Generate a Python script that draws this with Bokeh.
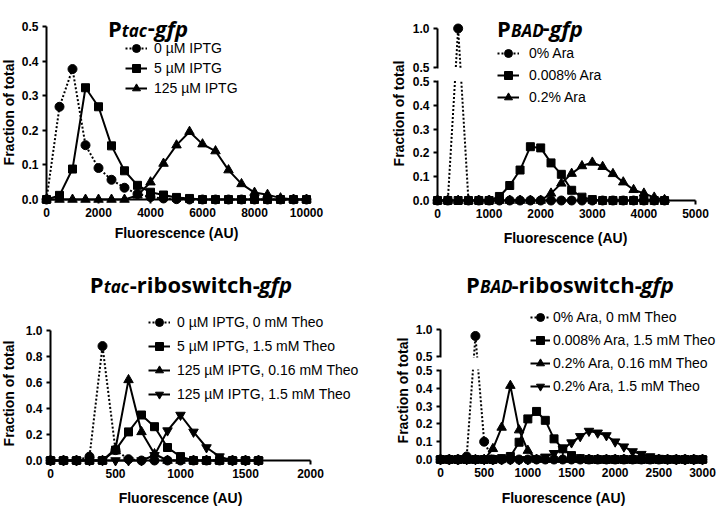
import math
from bokeh.plotting import figure
from bokeh.layouts import row, column
from bokeh.models import (Range1d, Label, Legend, LegendItem, FixedTicker, BoxAnnotation,
                          CustomJSTransform, CustomJSTickFormatter, NumeralTickFormatter,
                          ColumnDataSource)
from bokeh.transform import transform
from bokeh.embed import file_html
from bokeh.resources import INLINE

# ---------------- data ----------------
# Panel A: Ptac-gfp
a_x = [0, 500, 1000, 1500, 2000, 2500, 3000, 3500, 4000, 4500, 5000,
       5500, 6000, 6500, 7000, 7500, 8000, 8500, 9000, 9500, 10000]
a_iptg0 = [0.0, 0.268, 0.377, 0.157, 0.091, 0.057, 0.034, 0.016, 0.007, 0.003, 0.001,
           0, 0, 0, 0, 0, 0, 0, 0, 0, 0]
a_iptg5 = [0.0, 0.012, 0.088, 0.323, 0.268, 0.155, 0.083, 0.041, 0.021, 0.013, 0.006,
           0.003, 0, 0, 0, 0, 0, 0, 0, 0, 0]
a_iptg125 = [0, 0, 0, 0, 0, 0, 0, 0.012, 0.05, 0.104, 0.157,
             0.196, 0.16, 0.14, 0.085, 0.045, 0.02, 0.014, 0.004, 0, 0]
a_labels = ["0 µM IPTG", "5 µM IPTG", "125 µM IPTG"]
a_xticks = [0, 2000, 4000, 6000, 8000, 10000]
a_yticks = [0.0, 0.1, 0.2, 0.3, 0.4, 0.5]

# Panel B: PBAD-gfp
b_x = [0, 200, 400, 600, 800, 1000, 1200, 1400, 1600, 1800, 2000, 2200,
       2400, 2600, 2800, 3000, 3200, 3400, 3600, 3800, 4000, 4200, 4400]
b_ara0 = [0, 0, 1.0, 0, 0, 0, 0, 0, 0, 0, 0, 0,
          0, 0, 0, 0, 0, 0, 0, 0, 0, 0, 0]
b_ara008 = [0, 0, 0, 0, 0, 0, 0.017, 0.063, 0.128, 0.226, 0.221, 0.158,
            0.11, 0.043, 0.014, 0.004, 0, 0, 0, 0, 0, 0, 0]
b_ara02 = [0, 0, 0, 0, 0, 0, 0, 0, 0, 0, 0, 0.03,
           0.072, 0.113, 0.145, 0.16, 0.142, 0.112, 0.077, 0.045, 0.03, 0.013, 0.003]
b_labels = ["0% Ara", "0.008% Ara", "0.2% Ara"]
b_xticks = [0, 1000, 2000, 3000, 4000, 5000]

# Panel C: Ptac-riboswitch-gfp
c_x = [0, 100, 200, 300, 400, 500, 600, 700, 800, 900, 1000,
       1100, 1200, 1300, 1400, 1500, 1600]
c_s0 = [0, 0, 0, 0.03, 0.88, 0.08, 0.01, 0, 0, 0, 0, 0, 0, 0, 0, 0, 0]
c_s1 = [0, 0, 0, 0, 0, 0.08, 0.22, 0.35, 0.26, 0.1, 0.03, 0, 0, 0, 0, 0, 0]
c_s2 = [0, 0, 0, 0, 0, 0.09, 0.62, 0.22, 0.05, 0, 0, 0, 0, 0, 0, 0, 0]
c_s3 = [0, 0, 0, 0, 0, 0, 0, 0, 0.04, 0.23, 0.35, 0.22, 0.1, 0.03, 0, 0, 0]
c_labels = ["0 µM IPTG, 0 mM Theo", "5 µM IPTG, 1.5 mM Theo",
            "125 µM IPTG, 0.16 mM Theo", "125 µM IPTG, 1.5 mM Theo"]
c_xticks = [0, 500, 1000, 1500, 2000]
c_yticks = [0.0, 0.2, 0.4, 0.6, 0.8, 1.0]

# Panel D: PBAD-riboswitch-gfp
d_x = [0, 100, 200, 300, 400, 500, 600, 700, 800, 900, 1000,
       1100, 1200, 1300, 1400, 1500, 1600, 1700, 1800, 1900, 2000,
       2100, 2200, 2300, 2400, 2500, 2600, 2700, 2800, 2900, 3000]
d_s0 = [0, 0, 0, 0.017, 0.88, 0.1, 0, 0, 0, 0, 0,
        0, 0, 0, 0, 0, 0, 0, 0, 0, 0,
        0, 0, 0, 0, 0, 0, 0, 0, 0, 0]
d_s1 = [0, 0, 0, 0, 0, 0, 0, 0.005, 0.017, 0.097, 0.228,
        0.27, 0.22, 0.116, 0.06, 0.022, 0.005, 0, 0, 0, 0,
        0, 0, 0, 0, 0, 0, 0, 0, 0, 0]
d_s2 = [0, 0, 0, 0, 0, 0, 0.06, 0.18, 0.415, 0.165, 0.05,
        0, 0, 0, 0, 0, 0, 0, 0, 0, 0,
        0, 0, 0, 0, 0, 0, 0, 0, 0, 0]
d_s3 = [0, 0, 0, 0, 0, 0, 0, 0, 0, 0, 0,
        0.005, 0.015, 0.035, 0.06, 0.095, 0.13, 0.16, 0.15, 0.135, 0.1,
        0.072, 0.045, 0.03, 0.017, 0.008, 0.003, 0, 0, 0, 0]
d_labels = ["0% Ara, 0 mM Theo", "0.008% Ara, 1.5 mM Theo",
            "0.2% Ara, 0.16 mM Theo", "0.2% Ara, 1.5 mM Theo"]
d_xticks = [0, 500, 1000, 1500, 2000, 2500, 3000]
lower_yticks = [0.0, 0.1, 0.2, 0.3, 0.4, 0.5]

# ---------------- layout helpers ----------------
TOTAL_W, TOTAL_H = 719, 506
SX = 1.0
SY = 1.0
H1 = 250
H2 = TOTAL_H - H1
W1 = 390
W2 = TOTAL_W - W1
W3 = 392
W4 = TOTAL_W - W3

FONT = "Liberation Sans"
TFONT = "Open Sans"

UP = {'P': .63, 'r': .45, 'i': .30, 'b': .62, 'o': .61, 's': .50, 'w': .86,
      't': .42, 'c': .51, 'h': .66, '-': .32}
IT = {'g': .56, 'f': .38, 'p': .62, 't': .42, 'a': .60, 'c': .51,
      'B': .61, 'A': .61, 'D': .64}


def est_w(text, size, style):
    tab = IT if "italic" in style else UP
    return sum(tab.get(ch, .55) for ch in text) * size


class Panel:
    """One figure whose frame fills its whole canvas; axes sit at data 0."""

    def __init__(self, cx0, cy0, cw, ch, xpx, xdat, ypx, ydat, upper=None):
        self.ax0 = xpx[0] * SX - cx0
        ax1 = xpx[1] * SX - cx0
        self.kx = (ax1 - self.ax0) / (xdat[1] - xdat[0])
        self.ay0 = ypx[0] * SY - cy0
        ay1 = ypx[1] * SY - cy0
        self.ky = (self.ay0 - ay1) / (ydat[1] - ydat[0])
        self.xd0, self.yd0 = xdat[0], ydat[0]
        self.upper = upper
        if upper:
            u0 = upper[0] * SY - cy0
            u1 = upper[1] * SY - cy0
            self.t05 = ydat[1] + (ay1 - u0) / self.ky
            self.t10 = self.t05 + (u0 - u1) / self.ky
        xr = Range1d(self.xd0 - self.ax0 / self.kx, self.xd0 + (cw - self.ax0) / self.kx)
        yr = Range1d(self.yd0 - (ch - self.ay0) / self.ky, self.yd0 + self.ay0 / self.ky)
        p = figure(width=cw, height=ch, x_range=xr, y_range=yr,
                   min_border_left=0, min_border_right=0,
                   min_border_top=0, min_border_bottom=0,
                   output_backend="svg", toolbar_location=None, title=None)
        p.grid.visible = False
        p.outline_line_color = None
        p.background_fill_color = "white"
        p.border_fill_color = "white"
        for ax in (p.xaxis[0], p.yaxis[0]):
            ax.axis_line_width = 2
            ax.axis_line_color = "black"
            ax.major_tick_line_width = 2
            ax.major_tick_line_color = "black"
            ax.major_tick_out = 4
            ax.major_tick_in = 0
            ax.minor_tick_line_color = None
            ax.major_label_text_font = FONT
            ax.major_label_text_font_style = "bold"
            ax.major_label_text_font_size = "12px"
            ax.major_label_text_color = "black"
            ax.major_label_standoff = 4
            ax.fixed_location = 0
        self.p = p
        self.cw, self.ch = cw, ch
        self.tr = None
        if upper:
            self.tr = CustomJSTransform(
                args=dict(t05=self.t05, t10=self.t10),
                func="return x > 0.5 ? t05 + (x - 0.5) * (t10 - t05) / 0.5 : x;",
                v_func="return xs.map(v => v > 0.5 ? t05 + (v - 0.5) * (t10 - t05) / 0.5 : v);")

    def dx(self, px):
        return self.xd0 + (px - self.ax0) / self.kx

    def dy(self, py):
        return self.yd0 + (self.ay0 - py) / self.ky

    def axes(self, xticks, yticks, xmax, ymax):
        p = self.p
        p.xaxis.ticker = FixedTicker(ticks=xticks)
        p.xaxis.bounds = (0, xmax)
        p.xaxis.formatter = NumeralTickFormatter(format="0")
        if self.upper:
            ticks = list(yticks) + [self.t05, self.t10]
            p.yaxis.ticker = FixedTicker(ticks=ticks)
            p.yaxis.bounds = (0, self.t10)
            p.yaxis.formatter = CustomJSTickFormatter(
                args=dict(t05=self.t05, t10=self.t10),
                code="var v = tick > 0.5 + 1e-9 ? 0.5 + (tick - t05) * 0.5 / (t10 - t05) : tick;"
                     " return v.toFixed(1);")
            # axis break: white gap between the two segments
            one = 1.0 / self.ky
            p.add_layout(BoxAnnotation(bottom=0.5 + one, top=self.t05 - one,
                                       left=-1.5 / self.kx, fill_color="white", fill_alpha=1.0,
                                       line_alpha=0))
        else:
            p.yaxis.ticker = FixedTicker(ticks=yticks)
            p.yaxis.bounds = (0, ymax)
            p.yaxis.formatter = NumeralTickFormatter(format="0.0")

    def series(self, xs, ys, marker, dotted, label, size):
        src = ColumnDataSource(dict(x=xs, y=ys))
        yspec = transform("y", self.tr) if self.tr is not None else "y"
        rl = self.p.line("x", yspec, source=src, line_color="black", line_width=2,
                         line_dash="2 2" if dotted else "solid")
        rm = self.p.scatter("x", yspec, source=src, marker=marker, size=size,
                            fill_color="black", line_color="black")
        return LegendItem(label=label, renderers=[rl, rm])

    def legend(self, items, gx, row1, pitch, standoff, gw=22):
        sp = max(0, round(pitch - 20))
        n = len(items)
        top = row1 - 10
        bottom = top + n * 20 + (n - 1) * sp
        leg = Legend(items=items, location=(gx, self.ch - bottom), orientation="vertical",
                     glyph_width=gw, glyph_height=20, label_height=20, label_width=10,
                     spacing=sp, padding=0, margin=0, label_standoff=standoff,
                     border_line_color=None, background_fill_alpha=0,
                     label_text_font=FONT, label_text_font_size="14px",
                     label_text_color="black")
        self.p.add_layout(leg)

    def text(self, px, py, txt, size, style, font=FONT, angle=0.0, align="center",
             baseline="middle"):
        self.p.add_layout(Label(x=self.dx(px), y=self.dy(py), text=txt, text_font=font,
                                text_font_size=f"{size}px", text_font_style=style,
                                text_color="black", angle=angle, text_align=align,
                                text_baseline=baseline))

    def title(self, cx, baseline, pieces):
        widths = [est_w(t, s, st) for (t, s, st, dy) in pieces]
        x = cx - sum(widths) / 2
        for (t, s, st, dy), w in zip(pieces, widths):
            self.text(x, baseline + dy, t, s, st, font=TFONT, align="left",
                      baseline="alphabetic")
            x += w


def title_pieces(sub, mid):
    return [("P", 22, "bold", 0), (sub, 17, "bold italic", 2.5),
            (mid, 22, "bold", 0), ("gfp", 22, "bold italic", 0)]


# ---------------- Panel A ----------------
A = Panel(0, 0, W1, H1, (46, 306), (0, 10000), (199, 26), (0, 0.5))
A.axes(a_xticks, a_yticks, 10000, 0.5)
items = [A.series(a_x, a_iptg0, "circle", True, a_labels[0], 9),
         A.series(a_x, a_iptg5, "square", False, a_labels[1], 8),
         A.series(a_x, a_iptg125, "triangle", False, a_labels[2], 9.5)]
A.legend(items, 125, 48, 20.5, 7)
A.title(148, 27, title_pieces("tac", "-"))
A.text(176, 232, "Fluorescence (AU)", 14, "bold")
A.text(8, 112, "Fraction of total", 14, "bold", angle=math.pi / 2)

# ---------------- Panel B ----------------
B = Panel(W1, 0, W2, H1, (437, 695), (0, 5000), (200, 81), (0, 0.5), upper=(67, 28))
B.axes(b_xticks, lower_yticks, 5000, 0.5)
items = [B.series(b_x, b_ara0, "circle", True, b_labels[0], 9),
         B.series(b_x, b_ara008, "square", False, b_labels[1], 8),
         B.series(b_x, b_ara02, "triangle", False, b_labels[2], 9.5)]
B.legend(items, 497 - W1, 53, 22, 10)
B.title(540 - W1, 27, title_pieces("BAD", "-"))
B.text(565 - W1, 237, "Fluorescence (AU)", 14, "bold")
B.text(398 - W1, 113, "Fraction of total", 14, "bold", angle=math.pi / 2)

# ---------------- Panel C ----------------
C = Panel(0, H1, W3, H2, (50, 310), (0, 2000), (460, 330), (0, 1.0))
C.axes(c_xticks, c_yticks, 2000, 1.0)
items = [C.series(c_x, c_s0, "circle", True, c_labels[0], 9),
         C.series(c_x, c_s1, "square", False, c_labels[1], 8),
         C.series(c_x, c_s2, "triangle", False, c_labels[2], 9.5),
         C.series(c_x, c_s3, "inverted_triangle", False, c_labels[3], 9.5)]
C.legend(items, 148, 322 - H1, 23.7, 7)
C.title(191, 283 - H1, title_pieces("tac", "-riboswitch-"))
C.text(180, 497 - H1, "Fluorescence (AU)", 14, "bold")
C.text(8, 393 - H1, "Fraction of total", 14, "bold", angle=math.pi / 2)

# ---------------- Panel D ----------------
D = Panel(W3, H1, W4, H2, (440, 702), (0, 3000), (459, 370), (0, 0.5), upper=(356, 329))
D.axes(d_xticks, lower_yticks, 3000, 0.5)
items = [D.series(d_x, d_s0, "circle", True, d_labels[0], 9),
         D.series(d_x, d_s1, "square", False, d_labels[1], 8),
         D.series(d_x, d_s2, "triangle", False, d_labels[2], 9.5),
         D.series(d_x, d_s3, "inverted_triangle", False, d_labels[3], 9.5)]
D.legend(items, 530 - W3, 317 - H1, 23.3, 3, gw=20)
D.title(570 - W3, 283 - H1, title_pieces("BAD", "-riboswitch-"))
D.text(563 - W3, 497 - H1, "Fluorescence (AU)", 14, "bold")
D.text(402 - W3, 390 - H1, "Fraction of total", 14, "bold", angle=math.pi / 2)

layout = column(row(A.p, B.p), row(C.p, D.p))
open("out.html", "w").write(file_html(layout, INLINE))
